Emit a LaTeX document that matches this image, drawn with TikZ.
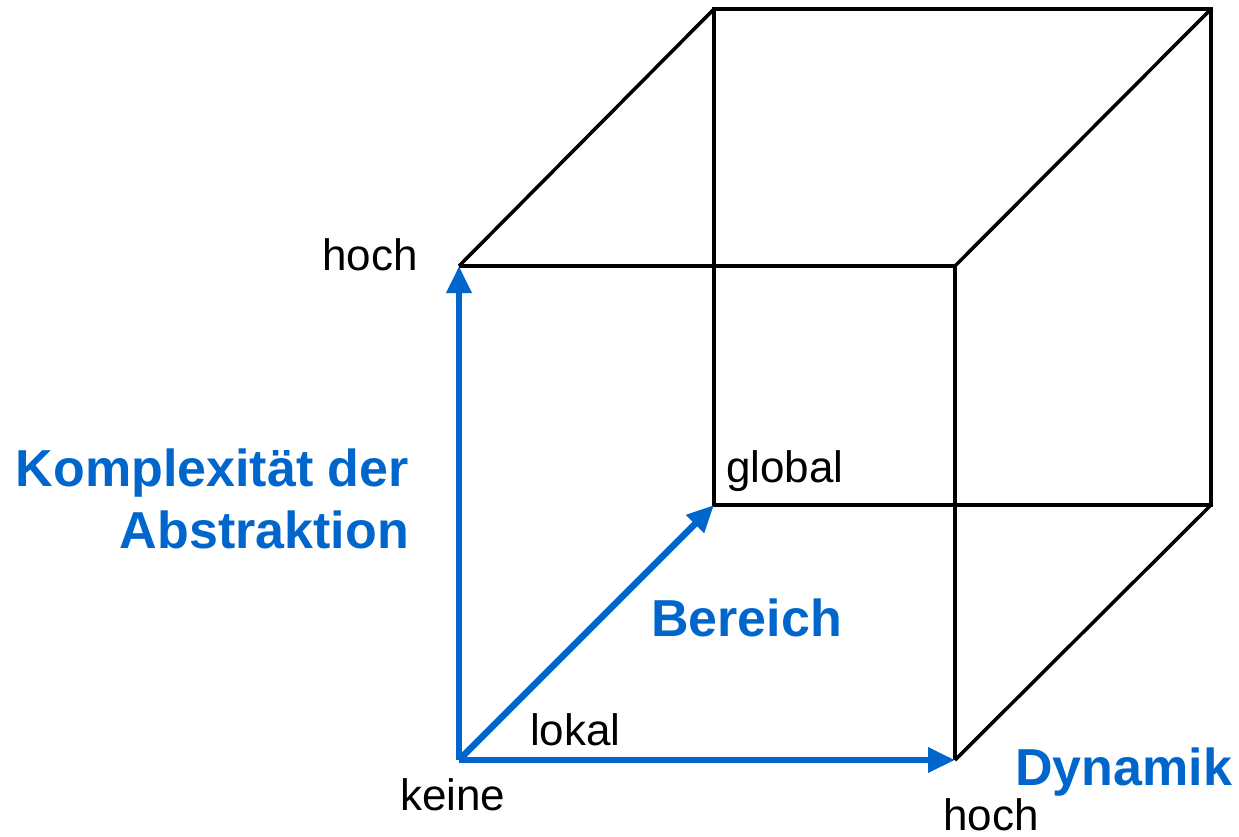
\documentclass[tikz,border=0pt]{standalone}
\usepackage{fontspec}
\setmainfont{Liberation Sans}
\usetikzlibrary{arrows.meta}
\definecolor{axisblue}{RGB}{0,102,204}
\begin{document}
\begin{tikzpicture}[x=1pt,y=-1pt,
  edge/.style={draw=black,line width=3.5pt,line join=miter},
  axis/.style={draw=axisblue,line width=6.5pt,-{Triangle[length=27pt,width=24pt]}},
  lbl/.style={anchor=base west,inner sep=0pt,font=\fontsize{44}{50}\selectfont},
  axlbl/.style={anchor=base west,inner sep=0pt,text=axisblue,font=\fontsize{52}{62}\selectfont\bfseries}]
\useasboundingbox (0,0) rectangle (1239,836);
% cube corners
\coordinate (fbl) at (459,760);
\coordinate (fbr) at (955,760);
\coordinate (ftr) at (955,266);
\coordinate (ftl) at (459,266);
\coordinate (bbl) at (714,505);
\coordinate (bbr) at (1211,505);
\coordinate (btr) at (1211,9);
\coordinate (btl) at (714,9);
% black edges
\draw[edge] (fbr) -- (ftr) -- (ftl);
\draw[edge] (bbl) -- (bbr) -- (btr) -- (btl) -- cycle;
\draw[edge] (ftl) -- (btl);
\draw[edge] (ftr) -- (btr);
\draw[edge] (fbr) -- (bbr);
% blue axes
\draw[axis] (fbl) -- (ftl);
\draw[axis] (fbl) -- (fbr);
\draw[axis] (fbl) -- (bbl);
% labels
\node[lbl] (hochv) at (322,270) {hoch};
\node[lbl] (keine) at (400,810) {keine};
\node[lbl] (hochh) at (943,830) {hoch};
\node[lbl] (lokal) at (530,745) {lokal};
\node[lbl] (global) at (726,482) {global};
\node[axlbl,anchor=base east] (kompl) at (409,486) {Komplexität der};
\node[axlbl,anchor=base east] (abstr) at (409,548) {Abstraktion};
\node[axlbl] (bereich) at (651,636) {Bereich};
\node[axlbl] (dynamik) at (1015,785) {Dynamik};
\end{tikzpicture}
\end{document}
